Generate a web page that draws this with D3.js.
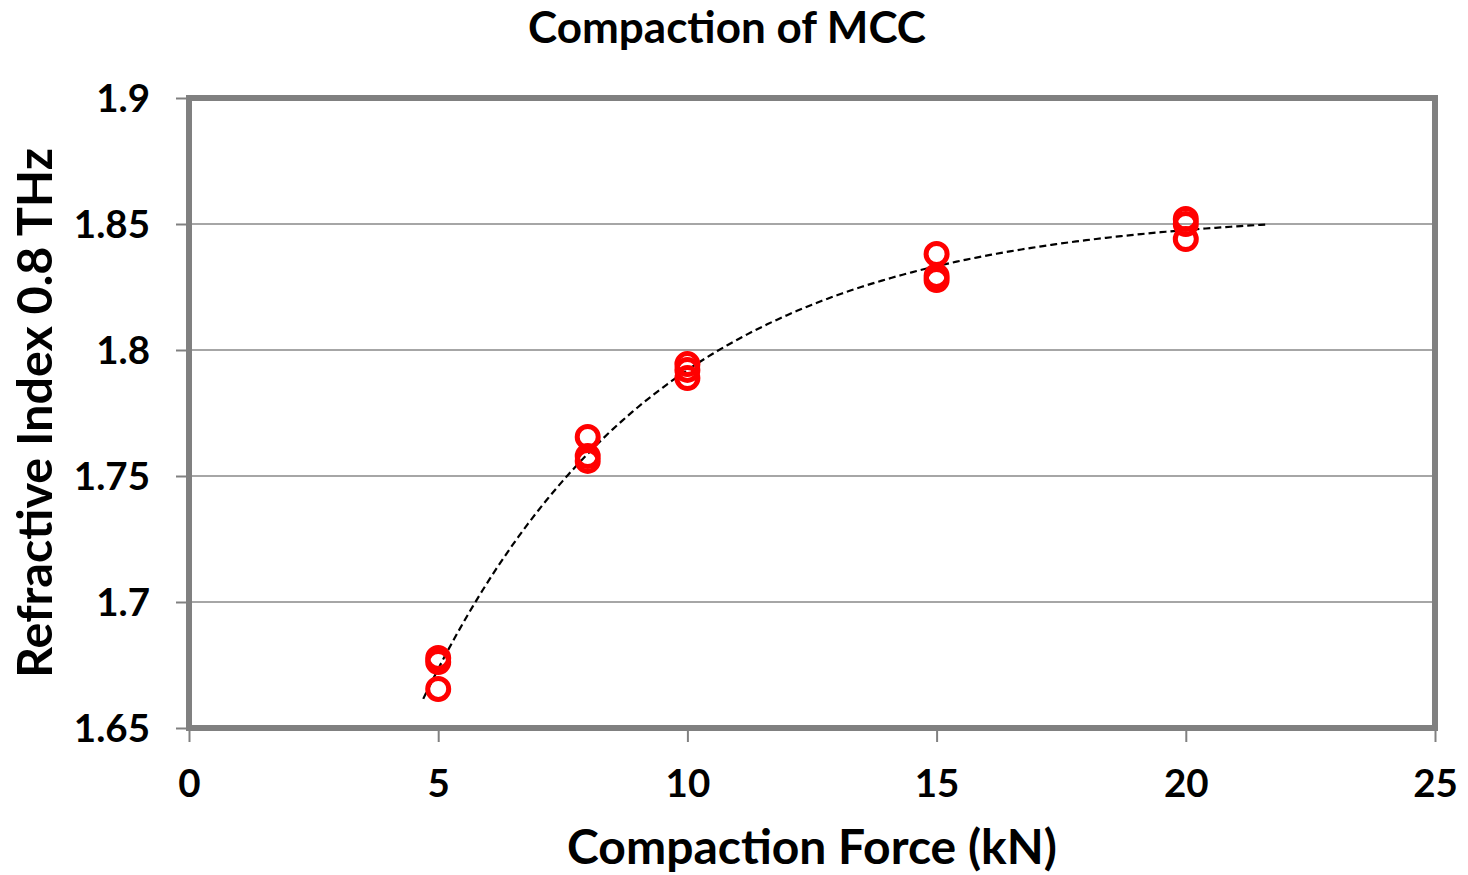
<!DOCTYPE html>
<html>
<head>
<meta charset="utf-8">
<script src="https://cdn.jsdelivr.net/npm/d3@7"></script>
<style>
  html, body { margin: 0; padding: 0; background: #fff; }
  svg { display: block; }
  text { font-family: Lato, "Open Sans", "DejaVu Sans", sans-serif; font-weight: bold; fill: #000; }
</style>
</head>
<body>
<svg id="chart" width="1468" height="875"></svg>
<script>
// Compaction force (kN) for each measured tablet
const forceKN = [5, 5, 5, 8, 8, 8, 10, 10, 10, 15, 15, 15, 20, 20, 20];
// Refractive index at 0.8 THz for each tablet
const refractiveIndex = [
  1.6778, 1.6762, 1.6655,
  1.7655, 1.7579, 1.7560,
  1.7944, 1.7921, 1.7889,
  1.8381, 1.8294, 1.8278,
  1.8520, 1.8500, 1.8440
];
const xTicks = [0, 5, 10, 15, 20, 25];
const yTicks = [1.65, 1.7, 1.75, 1.8, 1.85, 1.9];
const trendRange = [4.7, 21.6];

// Saturating trend n = A - B·exp(-F/τ): scan τ, solve A and B by linear least squares
function fitSaturating(xs, ys) {
  let best = null;
  for (let tau = 1; tau <= 20; tau += 0.01) {
    const u = xs.map(v => Math.exp(-v / tau));
    const mu = d3.mean(u), my = d3.mean(ys);
    const slope = d3.sum(u, (ui, i) => (ui - mu) * (ys[i] - my)) /
                  d3.sum(u, ui => (ui - mu) * (ui - mu));
    const icpt = my - slope * mu;
    const sse = d3.sum(u, (ui, i) => (ys[i] - icpt - slope * ui) ** 2);
    if (!best || sse < best.sse) best = { sse, tau, A: icpt, B: -slope };
  }
  return f => best.A - best.B * Math.exp(-f / best.tau);
}

(function draw() {
  const svg = d3.select("#chart");
  const plotL = 189, plotR = 1435, plotT = 98, plotB = 728;

  const x = d3.scaleLinear().domain([0, 25]).range([plotL, plotR]);
  const y = d3.scaleLinear().domain([1.65, 1.9]).range([plotB, plotT]);

  // Horizontal gridlines
  svg.append("g")
    .selectAll("line")
    .data(yTicks.slice(1, -1))
    .join("line")
    .attr("x1", plotL).attr("x2", plotR)
    .attr("y1", d => y(d)).attr("y2", d => y(d))
    .attr("stroke", "#a6a6a6").attr("stroke-width", 2);

  // Axes (ticks and labels)
  const yAxis = svg.append("g")
    .attr("transform", `translate(${plotL},0)`)
    .call(d3.axisLeft(y).tickValues(yTicks).tickSize(13).tickPadding(26)
          .tickFormat(d => String(+d.toFixed(2))));
  const xAxis = svg.append("g")
    .attr("transform", `translate(0,${plotB})`)
    .call(d3.axisBottom(x).tickValues(xTicks).tickSize(14).tickPadding(27));

  [yAxis, xAxis].forEach(g => {
    g.select(".domain").remove();
    g.selectAll(".tick line").attr("stroke", "#808080").attr("stroke-width", 2);
    g.selectAll(".tick text").attr("font-size", 38.5).attr("fill", "#000");
    g.attr("font-family", null).attr("font-size", null);
  });
  yAxis.selectAll(".tick text").attr("dy", "0.36em");
  xAxis.selectAll(".tick text").attr("dy", "0.72em");

  // Plot frame
  svg.append("rect")
    .attr("x", plotL).attr("y", plotT)
    .attr("width", plotR - plotL).attr("height", plotB - plotT)
    .attr("fill", "none").attr("stroke", "#808080").attr("stroke-width", 6);

  // Fitted trend line
  const trend = fitSaturating(forceKN, refractiveIndex);
  const trendX = d3.range(trendRange[0], trendRange[1] + 0.001, 0.1);
  svg.append("path")
    .datum(trendX)
    .attr("fill", "none")
    .attr("stroke", "#000")
    .attr("stroke-width", 2.2)
    .attr("stroke-dasharray", "7,4")
    .attr("d", d3.line().x(d => x(d)).y(d => y(trend(d))));

  // Measurement markers
  svg.append("g")
    .selectAll("circle")
    .data(forceKN.map((f, i) => [f, refractiveIndex[i]]))
    .join("circle")
    .attr("cx", d => x(d[0]))
    .attr("cy", d => y(d[1]))
    .attr("r", 10.5)
    .attr("fill", "none")
    .attr("stroke", "#ff0000")
    .attr("stroke-width", 5);

  // Titles
  svg.append("text")
    .attr("x", 727).attr("y", 28).attr("dy", "0.35em")
    .attr("text-anchor", "middle").attr("font-size", 44)
    .text("Compaction of MCC");
  svg.append("text")
    .attr("x", 812).attr("y", 847).attr("dy", "0.35em")
    .attr("text-anchor", "middle").attr("font-size", 48)
    .text("Compaction Force (kN)");
  svg.append("text")
    .attr("transform", "translate(35,413) rotate(-90)")
    .attr("dy", "0.35em")
    .attr("text-anchor", "middle").attr("font-size", 48.5)
    .text("Refractive Index 0.8 THz");
})();
</script>
</body>
</html>
